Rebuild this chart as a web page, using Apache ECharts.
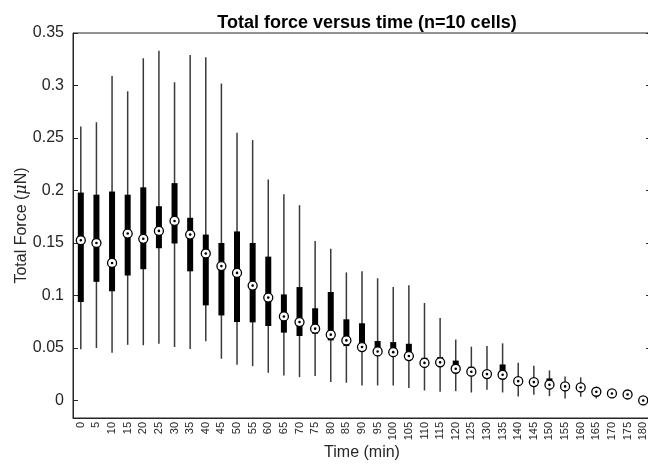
<!DOCTYPE html>
<html>
<head>
<meta charset="utf-8">
<script src="https://cdn.jsdelivr.net/npm/echarts@6/dist/echarts.min.js"></script>
<style>
html, body { margin: 0; padding: 0; background: #fff; }
#main { width: 648px; height: 464px; }
</style>
</head>
<body>
<div id="main"></div>
<script>
// time points (min)
var times = ['0','5','10','15','20','25','30','35','40','45','50','55','60','65','70','75','80','85','90',
    '95','100','105','110','115','120','125','130','135','140','145','150','155','160','165','170','175','180'];
// whisker ends, quartiles, medians (uN)
var whiskerLow = [0.0487,0.050,0.0455,0.053,0.0525,0.054,0.051,0.049,0.0563,0.0398,0.034,0.0327,0.0264,0.0238,
    0.0222,0.0232,0.0175,0.0169,0.0143,0.0143,0.0143,0.0118,0.0095,0.0083,0.0089,0.0076,0.0102,0.0076,0.0038,
    0.0054,0.0041,0.0019,0.0035,0.0019,0.0050,0.0035,0.0000];
var q1 = [0.0938,0.113,0.104,0.119,0.125,0.145,0.1495,0.123,0.0906,0.081,0.0747,0.0744,0.0709,0.0646,
    0.0614,0.0636,0.0572,0.0518,0.049,0.046,0.045,0.042,0.035,0.0334,0.029,0.027,0.024,0.024,0.017,
    0.0143,0.014,0.0125,0.0118,0.0078,0.0062,0.0053,0.0000];
var median = [0.1526,0.150,0.131,0.159,0.154,0.1615,0.171,0.158,0.140,0.128,0.1215,0.1094,0.098,0.080,
    0.0747,0.0684,0.0627,0.0572,0.0509,0.0467,0.046,0.0423,0.0358,0.0363,0.0302,0.0274,0.0251,0.0245,0.0184,
    0.0175,0.015,0.0134,0.0124,0.0083,0.0067,0.0057,0.0000];
var q3 = [0.198,0.196,0.199,0.196,0.203,0.185,0.207,0.174,0.158,0.150,0.161,0.150,0.137,0.101,
    0.108,0.0878,0.1033,0.0773,0.0735,0.0566,0.0556,0.054,0.0407,0.0413,0.038,0.0321,0.027,0.0343,0.0222,
    0.020,0.021,0.0145,0.0132,0.0090,0.0072,0.0062,0.0000];
var whiskerHigh = [0.261,0.265,0.309,0.2945,0.326,0.333,0.303,0.329,0.327,0.302,0.255,0.248,0.2105,0.1965,
    0.186,0.152,0.1444,0.122,0.123,0.1164,0.108,0.1097,0.0928,0.0785,0.058,0.0512,0.0518,0.0544,0.036,
    0.0331,0.0286,0.0229,0.022,0.0127,0.0090,0.0075,0.0000];
var yTicks = [0, 0.05, 0.1, 0.15, 0.2, 0.25, 0.3, 0.35];

var rows = times.map(function (t, i) {
    return [i, whiskerLow[i], q1[i], median[i], q3[i], whiskerHigh[i]];
});

var chart = echarts.init(document.getElementById('main'));
var font = 'Liberation Sans, Arial, sans-serif';
var axisColor = '#262626';

var option = {
    animation: false,
    backgroundColor: '#fff',
    title: {
        text: 'Total force versus time (n=10 cells)',
        left: 362, top: 9, textAlign: 'center',
        textStyle: { fontFamily: font, fontSize: 18, fontWeight: 'bold', color: '#000' }
    },
    grid: {
        left: 73, top: 33, right: -3, bottom: 46,
        outerBoundsMode: 'none',
        show: true, borderColor: axisColor, borderWidth: 1
    },
    xAxis: {
        type: 'category',
        data: times,
        name: 'Time (min)',
        nameLocation: 'middle',
        nameGap: 27,
        nameMoveOverlap: false,
        nameTextStyle: { fontFamily: font, fontSize: 16, color: '#262626', verticalAlign: 'top' },
        axisLine: { onZero: false, lineStyle: { color: axisColor } },
        axisTick: { show: false },
        axisLabel: { rotate: 90, interval: 0, fontFamily: font, fontSize: 11, color: '#262626', margin: 4 },
        splitLine: { show: false }
    },
    yAxis: [{
        type: 'value',
        min: -0.0167, max: 0.35,
        name: '{n|Total Force (}{mu|μ}{n|N)}',
        nameLocation: 'middle',
        nameGap: 43,
        nameMoveOverlap: false,
        nameTextStyle: {
            rich: {
                n: { fontFamily: font, fontSize: 16, color: '#262626' },
                mu: { fontFamily: 'DejaVu Serif, serif', fontStyle: 'italic', fontSize: 16, color: '#262626' }
            }
        },
        axisLine: { show: true, lineStyle: { color: axisColor } },
        axisTick: { show: true, inside: true, length: 5, customValues: yTicks, lineStyle: { color: axisColor } },
        axisLabel: {
            customValues: yTicks, fontFamily: font, fontSize: 16, color: '#262626', margin: 9,
            formatter: function (v) { return String(Math.round(v * 100) / 100); }
        },
        splitLine: { show: false }
    }, {
        type: 'value',
        position: 'right',
        min: -0.0167, max: 0.35,
        axisLine: { show: true, lineStyle: { color: axisColor } },
        axisTick: { show: true, inside: true, length: 5, customValues: yTicks, lineStyle: { color: axisColor } },
        axisLabel: { show: false },
        splitLine: { show: false }
    }],
    series: [{
        type: 'custom',
        data: rows,
        encode: { x: 0, y: [1, 2, 3, 4, 5] },
        renderItem: function (params, api) {
            var x = api.value(0);
            var lo = api.coord([x, api.value(1)]);
            var b1 = api.coord([x, api.value(2)]);
            var md = api.coord([x, api.value(3)]);
            var b3 = api.coord([x, api.value(4)]);
            var hi = api.coord([x, api.value(5)]);
            return {
                type: 'group',
                children: [
                    { type: 'line', shape: { x1: lo[0], y1: lo[1], x2: hi[0], y2: hi[1] },
                      style: { stroke: '#3a3a3a', lineWidth: 1.5 } },
                    { type: 'rect', shape: { x: b3[0] - 3, y: b3[1], width: 6, height: b1[1] - b3[1] },
                      style: { fill: '#000' } },
                    { type: 'circle', shape: { cx: md[0], cy: md[1], r: 4.5 },
                      style: { fill: '#fff', stroke: '#000', lineWidth: 1.3 } },
                    { type: 'circle', shape: { cx: md[0], cy: md[1], r: 1.3 },
                      style: { fill: '#000' } }
                ]
            };
        }
    }]
};
chart.setOption(option);
</script>
</body>
</html>
